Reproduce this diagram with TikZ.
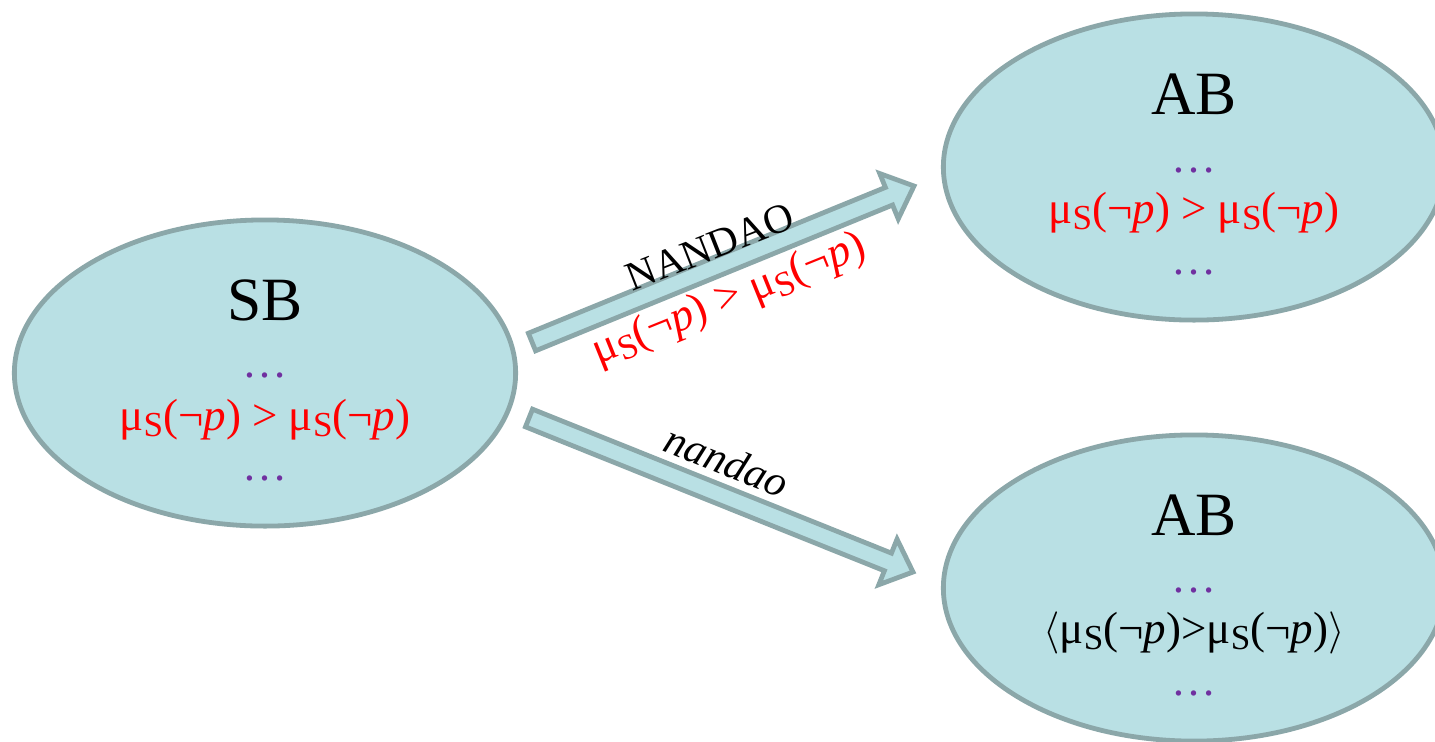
\documentclass[tikz,border=0pt]{standalone}
\usepackage{fontspec}
\setmainfont{Liberation Serif}
\usetikzlibrary{calc,shapes.geometric}
\definecolor{fillc}{HTML}{B9E0E4}
\definecolor{linec}{HTML}{8BA7A9}
\definecolor{dotc}{HTML}{7030A0}
\newcommand{\muS}{μ\raisebox{-0.32ex}{\scalebox{0.78}{S}}}
\newcommand{\np}{(¬\textit{p})}
\newcommand{\blockarr}[2]{%
  \coordinate (#1h) at ($(#2)!0.27cm!(#1)$);
  \draw[blockarrow] ($(#1)!0.095cm!90:(#2)$) -- ($(#1h)!0.095cm!90:(#2)$) -- ($(#1h)!0.245cm!90:(#2)$) -- (#2) -- ($(#1h)!0.245cm!-90:(#2)$) -- ($(#1h)!0.095cm!-90:(#2)$) -- ($(#1)!0.095cm!-90:(#2)$) -- cycle;}
\begin{document}
\begin{tikzpicture}[x=0.01cm,y=-0.01cm,
  ell/.style={ellipse, draw=linec, fill=fillc, line width=0.048cm, minimum width=5.01cm, minimum height=3.06cm, inner sep=0pt},
  blockarrow/.style={draw=linec, fill=fillc, line width=0.048cm, line join=miter},
  titletxt/.style={font=\fontsize{17.5}{20}\selectfont, anchor=base},
  bodytxt/.style={font=\fontsize{12.8}{15}\selectfont, anchor=base},
  redtxt/.style={bodytxt, text=red},
  dotstxt/.style={bodytxt, text=dotc},
  lbl/.style={font=\fontsize{12.8}{15}\selectfont, inner sep=0pt}]
\useasboundingbox (0,0) rectangle (1435,741);
\clip (0,0) rectangle (1435,741);
% ellipses
\node[ell] (sb) at (265,373) {};
\node[ell] (ab1) at (1194,167) {};
\node[ell] (ab2) at (1194,588) {};
% SB texts
\node[titletxt] (sbt) at (265,320) {SB};
\node[dotstxt] (sbd1) at (265,377) {…};
\node[redtxt] (sbr) at (265,430) {\muS\np\ > \muS\np};
\node[dotstxt] (sbd2) at (265,480) {…};
% AB top
\node[titletxt] (ab1t) at (1194,114) {AB};
\node[dotstxt] (ab1d1) at (1194,172) {…};
\node[redtxt] (ab1r) at (1194,223) {\muS\np\ > \muS\np};
\node[dotstxt] (ab1d2) at (1194,274) {…};
% AB bottom
\node[titletxt] (ab2t) at (1194,535) {AB};
\node[dotstxt] (ab2d1) at (1194,592) {…};
\node[bodytxt] (ab2r) at (1194,643) {$\langle$\muS\np>\muS\np$\rangle$};
\node[dotstxt] (ab2d2) at (1194,695) {…};
% arrows
\coordinate (ua) at (532,342);
\coordinate (ub) at (914,186);
\blockarr{ua}{ub}
\coordinate (la) at (529,418);
\coordinate (lb) at (913,572);
\blockarr{la}{lb}
% labels
\node[lbl, rotate=21.5, font=\fontsize{11.6}{14}\selectfont] (nup) at (710,247) {NANDAO};
\node[lbl, rotate=22, text=red] (rup) at (729,300) {\muS\np\ > \muS\np};
\node[lbl, rotate=-22, font=\fontsize{12.2}{14}\selectfont] (nlow) at (727,461) {\textit{nandao}};
\end{tikzpicture}
\end{document}
